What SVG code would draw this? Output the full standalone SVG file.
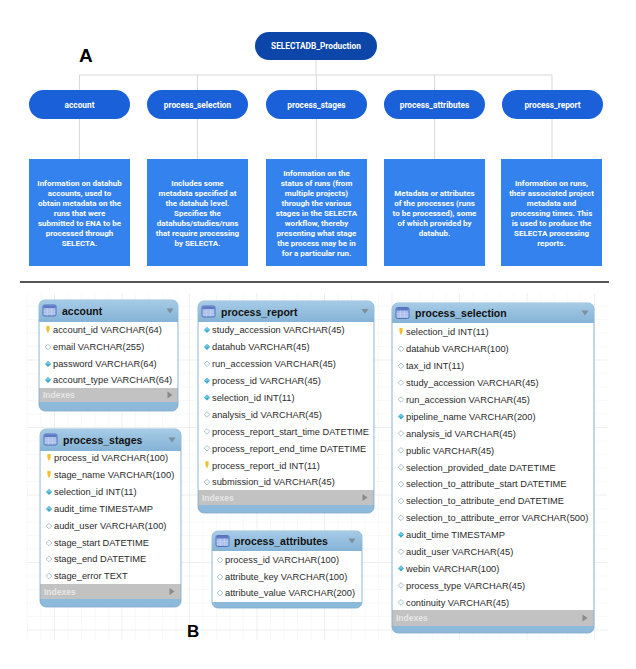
<svg xmlns="http://www.w3.org/2000/svg" width="636" height="669" viewBox="0 0 636 669">
<style>
.conn{stroke:#d9d9d9;stroke-width:1;fill:none}
.pill{fill:#1a60d8}
.ptxt{font-family:Roboto,"Liberation Sans",sans-serif;font-weight:bold;font-size:8.3px;fill:#fff;text-anchor:middle}
.box{fill:#3482ee}
.btxt{font-family:Roboto,"Liberation Sans",sans-serif;font-weight:bold;font-size:8px;fill:#fff;text-anchor:middle}
.lbl{font-family:"Liberation Sans",Arial,sans-serif;font-weight:bold;font-size:19px;fill:#000}
.tframe{fill:#8dbadb;stroke:#7faacb;stroke-width:0.8}
.tbody{fill:#fff}
.tbar{fill:#c2c2c2}
.ttl{font-family:"Liberation Sans",Arial,sans-serif;font-weight:bold;font-size:10.5px;fill:#111}
.row{font-family:"Liberation Sans",Arial,sans-serif;font-size:9.3px;fill:#2a2a2a}
.idx{font-family:"Liberation Sans",Arial,sans-serif;font-weight:bold;font-size:8.5px;fill:#e6e6e6}
.tri{fill:#7d8e9c}
.trig{fill:#8a8a8a}
</style>
<defs>
<linearGradient id="hdr" x1="0" y1="0" x2="0" y2="1">
<stop offset="0" stop-color="#a6cbe6"/>
<stop offset="1" stop-color="#85b3d6"/>
</linearGradient>
<pattern id="minor" width="13.5" height="13.5" patternUnits="userSpaceOnUse" x="55" y="293">
<path d="M13.5,0 V13.5 M0,13.5 H13.5" stroke="#efefef" stroke-width="0.8" fill="none"/>
</pattern>
<pattern id="major" width="67.5" height="67.5" patternUnits="userSpaceOnUse" x="55" y="293">
<path d="M67.5,0 V67.5 M0,67.5 H67.5" stroke="#e0e0e0" stroke-width="0.8" fill="none"/>
</pattern>
<g id="dF"><path d="M0,-3 L3,0 L0,3 L-3,0Z" fill="#3aa6c8"/><path d="M0,-3 L3,0 L0,0.5 L-3,0Z" fill="#6cc6e0"/></g>
<g id="dH"><path d="M0,-2.8 L2.8,0 L0,2.8 L-2.8,0Z" fill="#fff" stroke="#8fb4c8" stroke-width="0.8"/></g>
<g id="key"><path d="M-1.6,-4 H1.6 V-0.5 L0,3.5 L-1.6,-0.5Z" fill="#f0c02a"/></g>
<g id="ticon"><rect x="0" y="0" width="13" height="11" rx="1.5" fill="#a9bde9" stroke="#4b66b5" stroke-width="0.9"/><rect x="0.5" y="0.5" width="12" height="2.5" fill="#5d78c4"/><path d="M4.5,3 V10.5 M8.5,3 V10.5 M0.5,6 H12.5 M0.5,8.5 H12.5" stroke="#c9d6f2" stroke-width="0.6"/></g>
<path id="tdown" d="M-3.5,-2.5 H3.5 L0,2.5Z"/>
<path id="tright" d="M-2.5,-3.5 V3.5 L2.5,0Z"/>
</defs>
<rect width="636" height="669" fill="#fff"/>

<!-- Part A -->
<text class="lbl" x="79" y="62">A</text>
<g id="connectors">
<path class="conn" d="M316,60 V75 M79.5,75 H552 M79.5,75 V159 M197.5,75 V159 M316.5,75 V159 M434.5,75 V159 M552,75 V159"/>
</g>
<g id="SELECTADB_Production">
<rect x="255" y="32" width="122" height="28" rx="14" fill="#0c46a8"/>
<text class="ptxt" x="316" y="49">SELECTADB_Production</text>
</g>
<g id="account_pill"><rect class="pill" x="29" y="90" width="101" height="29" rx="14.5"/><text class="ptxt" x="79.5" y="107.5">account</text></g>
<g id="process_selection_pill"><rect class="pill" x="147" y="90" width="101" height="29" rx="14.5"/><text class="ptxt" x="197.5" y="107.5">process_selection</text></g>
<g id="process_stages_pill"><rect class="pill" x="266" y="90" width="101" height="29" rx="14.5"/><text class="ptxt" x="316.5" y="107.5">process_stages</text></g>
<g id="process_attributes_pill"><rect class="pill" x="384" y="90" width="101" height="29" rx="14.5"/><text class="ptxt" x="434.5" y="107.5">process_attributes</text></g>
<g id="process_report_pill"><rect class="pill" x="502" y="90" width="101" height="29" rx="14.5"/><text class="ptxt" x="552.5" y="107.5">process_report</text></g>

<g id="account_desc"><rect class="box" x="29" y="159" width="101" height="107"/>
<text class="btxt" x="79.5" y="185.5">Information on datahub<tspan x="79.5" dy="10">accounts, used to</tspan><tspan x="79.5" dy="10">obtain metadata on the</tspan><tspan x="79.5" dy="10">runs that were</tspan><tspan x="79.5" dy="10">submitted to ENA to be</tspan><tspan x="79.5" dy="10">processed through</tspan><tspan x="79.5" dy="10">SELECTA.</tspan></text></g>
<g id="process_selection_desc"><rect class="box" x="147" y="159" width="101" height="107"/>
<text class="btxt" x="197.5" y="185.5">Includes some<tspan x="197.5" dy="10">metadata specified at</tspan><tspan x="197.5" dy="10">the datahub level.</tspan><tspan x="197.5" dy="10">Specifies the</tspan><tspan x="197.5" dy="10">datahubs/studies/runs</tspan><tspan x="197.5" dy="10">that require processing</tspan><tspan x="197.5" dy="10">by SELECTA.</tspan></text></g>
<g id="process_stages_desc"><rect class="box" x="266" y="159" width="101" height="107"/>
<text class="btxt" x="316.5" y="175.5">Information on the<tspan x="316.5" dy="10">status of runs (from</tspan><tspan x="316.5" dy="10">multiple projects)</tspan><tspan x="316.5" dy="10">through the various</tspan><tspan x="316.5" dy="10">stages in the SELECTA</tspan><tspan x="316.5" dy="10">workflow, thereby</tspan><tspan x="316.5" dy="10">presenting what stage</tspan><tspan x="316.5" dy="10">the process may be in</tspan><tspan x="316.5" dy="10">for a particular run.</tspan></text></g>
<g id="process_attributes_desc"><rect class="box" x="384" y="159" width="101" height="107"/>
<text class="btxt" x="434.5" y="195.5">Metadata or attributes<tspan x="434.5" dy="10">of the processes (runs</tspan><tspan x="434.5" dy="10">to be processed), some</tspan><tspan x="434.5" dy="10">of which provided by</tspan><tspan x="434.5" dy="10">datahub.</tspan></text></g>
<g id="process_report_desc"><rect class="box" x="501" y="159" width="101" height="107"/>
<text class="btxt" x="551.5" y="185.5">Information on runs,<tspan x="551.5" dy="10">their associated project</tspan><tspan x="551.5" dy="10">metadata and</tspan><tspan x="551.5" dy="10">processing times. This</tspan><tspan x="551.5" dy="10">is used to produce the</tspan><tspan x="551.5" dy="10">SELECTA processing</tspan><tspan x="551.5" dy="10">reports.</tspan></text></g>

<line x1="20" y1="282" x2="609" y2="282" stroke="#1e1e1e" stroke-width="1.6"/>

<!-- Part B -->
<rect x="27" y="293" width="580" height="347" fill="url(#minor)"/>
<rect x="27" y="293" width="580" height="347" fill="url(#major)"/>
<text class="lbl" x="187" y="637" style="font-size:17px">B</text>

<g id="account">
<rect class="tframe" x="39" y="300" width="139" height="111" rx="6"/>
<path d="M45,300 H172 A6,6 0 0 1 178,306 V322 H39 V306 A6,6 0 0 1 45,300Z" fill="url(#hdr)"/>
<use href="#ticon" x="43" y="305"/>
<text class="ttl" x="62" y="315">account</text>
<use href="#tdown" class="tri" x="170" y="311"/>
<rect class="tbody" x="39.5" y="322" width="138" height="66"/>
<use href="#key" x="48" y="330"/><text class="row" x="53" y="333.3">account_id VARCHAR(64)</text>
<use href="#dH" x="48" y="347"/><text class="row" x="53" y="350.3">email VARCHAR(255)</text>
<use href="#dF" x="48" y="364"/><text class="row" x="53" y="367.3">password VARCHAR(64)</text>
<use href="#dF" x="48" y="380"/><text class="row" x="53" y="383.3">account_type VARCHAR(64)</text>
<rect class="tbar" x="39.5" y="388" width="138" height="14"/>
<text class="idx" x="43" y="398">Indexes</text>
<use href="#tright" class="trig" x="170" y="395"/>
</g>

<g id="process_stages">
<rect class="tframe" x="40" y="429" width="141" height="178" rx="6"/>
<path d="M46,429 H175 A6,6 0 0 1 181,435 V451 H40 V435 A6,6 0 0 1 46,429Z" fill="url(#hdr)"/>
<use href="#ticon" x="44" y="434"/>
<text class="ttl" x="63" y="444">process_stages</text>
<use href="#tdown" class="tri" x="172" y="440"/>
<rect class="tbody" x="40.5" y="451" width="140" height="133"/>
<use href="#key" x="49" y="458"/><text class="row" x="54" y="461.3">process_id VARCHAR(100)</text>
<use href="#key" x="49" y="475"/><text class="row" x="54" y="478.3">stage_name VARCHAR(100)</text>
<use href="#dF" x="49" y="492"/><text class="row" x="54" y="495.3">selection_id INT(11)</text>
<use href="#dF" x="49" y="509"/><text class="row" x="54" y="512.3">audit_time TIMESTAMP</text>
<use href="#dH" x="49" y="526"/><text class="row" x="54" y="529.3">audit_user VARCHAR(100)</text>
<use href="#dH" x="49" y="543"/><text class="row" x="54" y="546.3">stage_start DATETIME</text>
<use href="#dH" x="49" y="559"/><text class="row" x="54" y="562.3">stage_end DATETIME</text>
<use href="#dH" x="49" y="576"/><text class="row" x="54" y="579.3">stage_error TEXT</text>
<rect class="tbar" x="40.5" y="584" width="140" height="15"/>
<text class="idx" x="44" y="594.5">Indexes</text>
<use href="#tright" class="trig" x="172" y="591.5"/>
</g>

<g id="process_report">
<rect class="tframe" x="198" y="301" width="176" height="212" rx="6"/>
<path d="M204,301 H368 A6,6 0 0 1 374,307 V322 H198 V307 A6,6 0 0 1 204,301Z" fill="url(#hdr)"/>
<use href="#ticon" x="202" y="306"/>
<text class="ttl" x="221" y="315.5">process_report</text>
<use href="#tdown" class="tri" x="365" y="311.5"/>
<rect class="tbody" x="198.5" y="322" width="175" height="168"/>
<use href="#dF" x="207" y="330"/><text class="row" x="212" y="333.3">study_accession VARCHAR(45)</text>
<use href="#dF" x="207" y="346.9"/><text class="row" x="212" y="350.2">datahub VARCHAR(45)</text>
<use href="#dH" x="207" y="363.8"/><text class="row" x="212" y="367.1">run_accession VARCHAR(45)</text>
<use href="#dF" x="207" y="380.7"/><text class="row" x="212" y="384">process_id VARCHAR(45)</text>
<use href="#dF" x="207" y="397.6"/><text class="row" x="212" y="400.9">selection_id INT(11)</text>
<use href="#dH" x="207" y="414.5"/><text class="row" x="212" y="417.8">analysis_id VARCHAR(45)</text>
<use href="#dH" x="207" y="431.4"/><text class="row" x="212" y="434.7">process_report_start_time DATETIME</text>
<use href="#dH" x="207" y="448.3"/><text class="row" x="212" y="451.6">process_report_end_time DATETIME</text>
<use href="#key" x="207" y="465.2"/><text class="row" x="212" y="468.5">process_report_id INT(11)</text>
<use href="#dH" x="207" y="482.1"/><text class="row" x="212" y="485.4">submission_id VARCHAR(45)</text>
<rect class="tbar" x="198.5" y="490" width="175" height="15"/>
<text class="idx" x="202" y="500.5">Indexes</text>
<use href="#tright" class="trig" x="365" y="497.5"/>
</g>

<g id="process_attributes">
<rect class="tframe" x="212" y="531" width="150" height="77" rx="6"/>
<path d="M218,531 H356 A6,6 0 0 1 362,537 V551 H212 V537 A6,6 0 0 1 218,531Z" fill="url(#hdr)"/>
<use href="#ticon" x="216" y="535.5"/>
<text class="ttl" x="234" y="545">process_attributes</text>
<use href="#tdown" class="tri" x="352" y="541"/>
<rect class="tbody" x="212.5" y="551" width="149" height="51"/>
<use href="#dH" x="220" y="560"/><text class="row" x="225" y="563.3">process_id VARCHAR(100)</text>
<use href="#dH" x="220" y="577"/><text class="row" x="225" y="580.3">attribute_key VARCHAR(100)</text>
<use href="#dH" x="220" y="593"/><text class="row" x="225" y="596.3">attribute_value VARCHAR(200)</text>
</g>

<g id="process_selection">
<rect class="tframe" x="392" y="303" width="202" height="330" rx="6"/>
<path d="M398,303 H588 A6,6 0 0 1 594,309 V323 H392 V309 A6,6 0 0 1 398,303Z" fill="url(#hdr)"/>
<use href="#ticon" x="396" y="307.5"/>
<text class="ttl" x="415" y="317">process_selection</text>
<use href="#tdown" class="tri" x="585" y="313"/>
<rect class="tbody" x="392.5" y="323" width="201" height="287"/>
<use href="#key" x="401" y="332"/><text class="row" x="406" y="335.3">selection_id INT(11)</text>
<use href="#dH" x="401" y="348.9"/><text class="row" x="406" y="352.2">datahub VARCHAR(100)</text>
<use href="#dH" x="401" y="365.8"/><text class="row" x="406" y="369.1">tax_id INT(11)</text>
<use href="#dH" x="401" y="382.7"/><text class="row" x="406" y="386">study_accession VARCHAR(45)</text>
<use href="#dH" x="401" y="399.6"/><text class="row" x="406" y="402.9">run_accession VARCHAR(45)</text>
<use href="#dF" x="401" y="416.5"/><text class="row" x="406" y="419.8">pipeline_name VARCHAR(200)</text>
<use href="#dH" x="401" y="433.4"/><text class="row" x="406" y="436.7">analysis_id VARCHAR(45)</text>
<use href="#dH" x="401" y="450.3"/><text class="row" x="406" y="453.6">public VARCHAR(45)</text>
<use href="#dH" x="401" y="467.2"/><text class="row" x="406" y="470.5">selection_provided_date DATETIME</text>
<use href="#dH" x="401" y="484.1"/><text class="row" x="406" y="487.4">selection_to_attribute_start DATETIME</text>
<use href="#dH" x="401" y="501"/><text class="row" x="406" y="504.3">selection_to_attribute_end DATETIME</text>
<use href="#dH" x="401" y="517.9"/><text class="row" x="406" y="521.2">selection_to_attribute_error VARCHAR(500)</text>
<use href="#dF" x="401" y="534.8"/><text class="row" x="406" y="538.1">audit_time TIMESTAMP</text>
<use href="#dH" x="401" y="551.7"/><text class="row" x="406" y="555">audit_user VARCHAR(45)</text>
<use href="#dF" x="401" y="568.6"/><text class="row" x="406" y="571.9">webin VARCHAR(100)</text>
<use href="#dH" x="401" y="585.5"/><text class="row" x="406" y="588.8">process_type VARCHAR(45)</text>
<use href="#dH" x="401" y="602.4"/><text class="row" x="406" y="605.7">continuity VARCHAR(45)</text>
<rect class="tbar" x="392.5" y="610" width="201" height="16"/>
<text class="idx" x="396" y="621">Indexes</text>
<use href="#tright" class="trig" x="585" y="618"/>
</g>
</svg>
